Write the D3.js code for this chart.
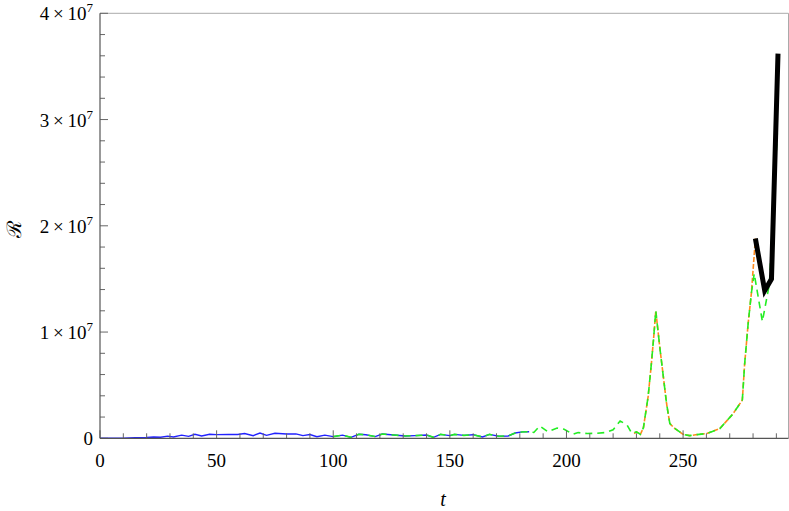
<!DOCTYPE html>
<html><head><meta charset="utf-8">
<script src="https://cdn.jsdelivr.net/npm/d3@7"></script>
<style>body{margin:0;background:#fff}svg{display:block}
.lab{font-family:"Liberation Serif",serif;}</style>
</head><body>
<svg id="c" width="789" height="511"></svg>
<script>
// ---- data (values in units of 1e6) ----
const blueT = [0,5,10,15,20,23,26,29,31.5,35,38,40.7,43.6,47,50,55,59,62,65.7,68.6,71.4,75,80,84,87,90,93,96.4,100,104,107.6,111,114,118,121,126,131,135,140,143,146,150,152,156,160,164,167,171,175,178,181,184];
const blueV = [0,0,0.02,0.05,0.08,0.12,0.1,0.2,0.13,0.3,0.18,0.38,0.22,0.38,0.35,0.36,0.36,0.45,0.25,0.5,0.28,0.47,0.4,0.42,0.25,0.35,0.15,0.3,0.16,0.3,0.09,0.38,0.33,0.16,0.4,0.31,0.22,0.25,0.31,0.09,0.37,0.25,0.37,0.28,0.34,0.12,0.37,0.2,0.22,0.5,0.6,0.62];
const greenT = [100,104,107.6,111,114,118,121,126,131,135,140,143,146,150,152,156,160,164,167,171,175,178,181,184,186,188.6,192,196,199,202.8,205,207,209,213,217,220,223,226,228,230,231.7,233,235,236.4,237.4,238.3,240,241.7,242.9,244.3,246,250,252.8,256,260,265.7,271.4,275.4,276.4,277.9,279.3,280.5,284,287,290.4];
const greenV = [0.16,0.3,0.09,0.38,0.33,0.16,0.4,0.31,0.22,0.25,0.31,0.09,0.37,0.25,0.37,0.28,0.34,0.12,0.37,0.2,0.22,0.5,0.6,0.62,0.55,1.16,0.62,0.97,0.85,0.38,0.55,0.47,0.45,0.47,0.55,0.8,1.63,1.25,0.47,0.6,0.38,1.0,3.9,7.0,9.5,12.0,8.6,5.5,3.3,1.4,1.0,0.37,0.25,0.35,0.44,0.9,2.3,3.6,7.0,10.8,13.7,15.5,11.0,14.5,28.7];
const orangeT = [229,230,231.7,233,235,236.4,237.4,238.3,240,241.7,242.9,244.3,246,250,252.8,256,260,265.7,271.4,275.4,276.4,277.9,279.3,281];
const orangeV = [0.45,0.6,0.38,1.0,3.9,7.0,9.5,12.0,8.6,5.5,3.3,1.4,1.0,0.37,0.25,0.35,0.44,0.9,2.3,3.6,7.0,10.8,13.7,18.8];
const blackT = [281,285,287.9,290.7];
const blackV = [18.8,13.9,15.0,36.2];
const xTicks = [0,50,100,150,200,250];
const yTicks = [0,10,20,30,40];
const yTickMant = ["0","1","2","3","4"];

// ---- layout ----
const svg = d3.select("#c");
const L = 100, R = 788.5, T = 13.3, B = 438.3;
const x = d3.scaleLinear().domain([0,295.2]).range([L,R]);
const y = d3.scaleLinear().domain([0,40]).range([B,T]);

const plot = svg.append("g");
const line = d3.line().x(d=>x(d[0])).y(d=>y(d[1]));
const pts = (T_,V_) => T_.map((t,i)=>[t,V_[i]]);

// frame
svg.append("line").attr("x1",L).attr("x2",R).attr("y1",T).attr("y2",T).attr("stroke","#aaa").attr("stroke-width",1);
svg.append("line").attr("x1",R).attr("x2",R).attr("y1",T).attr("y2",B).attr("stroke","#aaa").attr("stroke-width",1);

// minor / major ticks (inward)
const xMinor = d3.range(0,296,10);
const yMinor = d3.range(0,40.1,2);
svg.append("g").selectAll("line").data(xMinor).join("line")
  .attr("x1",d=>x(d)).attr("x2",d=>x(d)).attr("y1",B).attr("y2",d=>B-(d%50===0?8:5))
  .attr("stroke","#666").attr("stroke-width",1);
svg.append("g").selectAll("line").data(yMinor).join("line")
  .attr("y1",d=>y(d)).attr("y2",d=>y(d)).attr("x1",L).attr("x2",d=>L+(Math.round(d)%10===0?8:5))
  .attr("stroke","#666").attr("stroke-width",1);

// data lines
plot.append("path").datum(pts(blueT,blueV)).attr("d",line)
  .attr("fill","none").attr("stroke","#2222ff").attr("stroke-width",1.4);
plot.append("path").datum(pts(orangeT,orangeV)).attr("d",line)
  .attr("fill","none").attr("stroke","#ff8a1c").attr("stroke-width",1.6).attr("stroke-dasharray","5,2");
plot.append("path").datum(pts(greenT,greenV)).attr("d",line)
  .attr("fill","none").attr("stroke","#22ee22").attr("stroke-width",1.6).attr("stroke-dasharray","7,5");
plot.append("path").datum(pts(blackT,blackV)).attr("d",line)
  .attr("fill","none").attr("stroke","#000").attr("stroke-width",5).attr("stroke-linejoin","miter");

// axes lines
svg.append("line").attr("x1",L).attr("x2",R).attr("y1",B).attr("y2",B).attr("stroke","#555").attr("stroke-width",1.2);
svg.append("line").attr("x1",L).attr("x2",L).attr("y1",T).attr("y2",B).attr("stroke","#555").attr("stroke-width",1.2);

// x labels
svg.append("g").selectAll("text").data(xTicks).join("text").attr("class","lab")
  .attr("x",d=>x(d)).attr("y",467).attr("text-anchor","middle")
  .style("font-size","19px").attr("fill","#000").text(d=>d);
// y labels
const yl = svg.append("g").selectAll("text").data(yTicks).join("text").attr("class","lab")
  .attr("x",93).attr("y",d=>y(d)+7).attr("text-anchor","end")
  .style("font-size","19px").attr("fill","#000");
yl.each(function(d,i){
  const s = d3.select(this);
  if (d===0){ s.text("0"); return; }
  s.append("tspan").text(yTickMant[i]+"\u2009\u00d7\u200910");
  s.append("tspan").attr("dy",-8).style("font-size","13px").text("7");
});

// axis titles
svg.append("text").attr("class","lab").attr("x",443).attr("y",506).attr("text-anchor","middle")
  .style("font-style","italic").style("font-size","20px").text("t");
svg.append("text").attr("class","lab").attr("transform","translate(21,229) rotate(-90)").attr("text-anchor","middle")
  .style("font-size","20px").text("\u211B");
</script>
</body></html>
